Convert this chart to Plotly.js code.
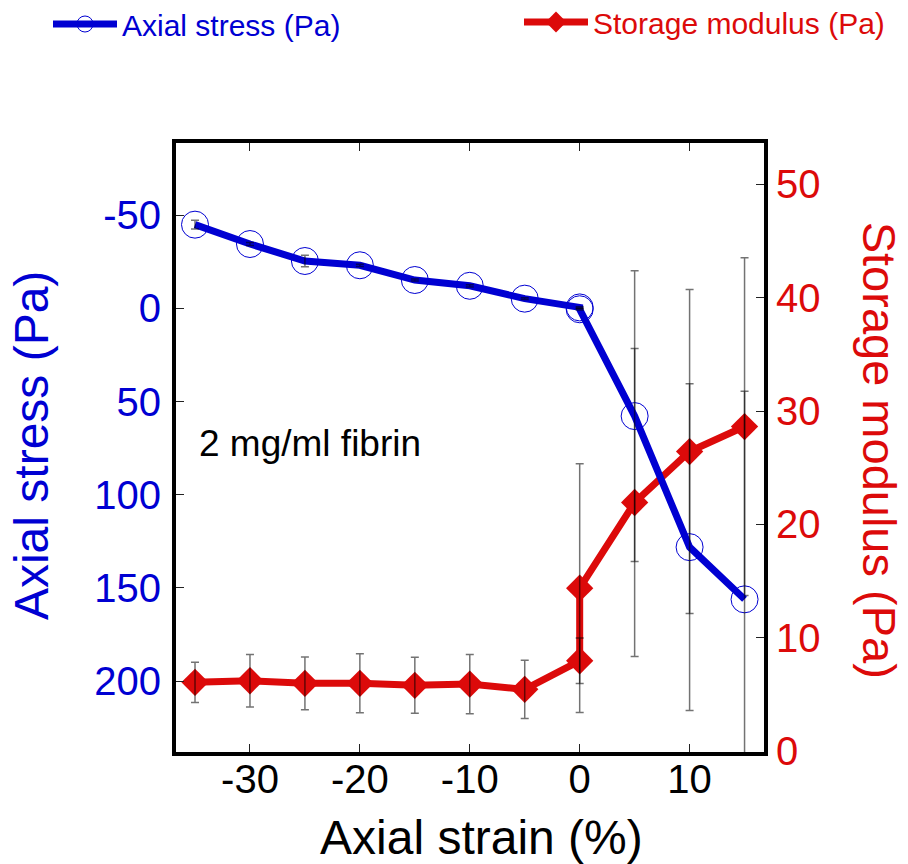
<!DOCTYPE html>
<html>
<head>
<meta charset="utf-8">
<script src="https://cdn.plot.ly/plotly-3.0.1.min.js"></script>
<style>html,body{margin:0;padding:0;background:#fff;}#chart{width:908px;height:864px;}</style>
</head>
<body>
<div id="chart"></div>
<script>
// ---- data ----
const strain = [-35, -30, -25, -20, -15, -10, -5, 0, 0, 5, 10, 15];
const stress = [-44.9, -34.5, -25.4, -23.1, -15.2, -12.1, -5.2, -0.5, 0.5, 57.8, 128.1, 156.1];
const stressErr = [2.4, 0.8, 3.1, 0.6, 0.5, 0.6, 0.5, 0.4, 0.4, 78.0, 87.7, 111.6];
const modulus = [6.09, 6.23, 6.0, 6.0, 5.83, 5.94, 5.47, 7.99, 14.39, 21.94, 26.43, 28.63];
const modulusErr = [1.78, 2.32, 2.32, 2.6, 2.46, 2.61, 2.57, 2.0, 10.96, 13.58, 14.28, 14.88];
const xTickVals = [-30, -20, -10, 0, 10];
const xTickText = ['-30', '-20', '-10', '0', '10'];
const stressTickVals = [-50, 0, 50, 100, 150, 200];
const stressTickText = ['-50', '0', '50', '100', '150', '200'];
const modulusTickVals = [0, 10, 20, 30, 40, 50];
const modulusTickText = ['0', '10', '20', '30', '40', '50'];
const stressName = 'Axial stress (Pa)';
const modulusName = 'Storage modulus (Pa)';
const xTitle = 'Axial strain (%)';
const noteText = '2 mg/ml fibrin';

const BLUE = '#0000d2';
const RED = '#dc0a0a';
const FONT = 'Liberation Sans, Arial, Helvetica, sans-serif';
const ERR = 'rgba(0,0,0,0.55)';

const traces = [
  {
    x: strain, y: modulus, yaxis: 'y', type: 'scatter', mode: 'lines+markers',
    name: modulusName, legend: 'legend2',
    line: {color: RED, width: 7},
    marker: {symbol: 'diamond', size: 21, color: RED, line: {width: 0}}
  },
  {
    x: strain, y: modulus, yaxis: 'y', type: 'scatter', mode: 'markers',
    showlegend: false, hoverinfo: 'skip',
    marker: {size: 1, color: 'rgba(0,0,0,0)'},
    error_y: {type: 'data', array: modulusErr, visible: true, color: ERR, thickness: 1.5, width: 4}
  },
  {
    x: strain, y: stress, yaxis: 'y2', type: 'scatter', mode: 'lines+markers',
    name: stressName, legend: 'legend',
    line: {color: BLUE, width: 7},
    marker: {symbol: 'circle-open', size: 27, color: BLUE, line: {width: 1, color: BLUE}}
  },
  {
    x: strain, y: stress, yaxis: 'y2', type: 'scatter', mode: 'markers',
    showlegend: false, hoverinfo: 'skip',
    marker: {size: 1, color: 'rgba(0,0,0,0)'},
    error_y: {type: 'data', array: stressErr, visible: true, color: ERR, thickness: 1.5, width: 4}
  }
];

const layout = {
  width: 908, height: 864,
  margin: {l: 176, r: 144, t: 143, b: 112, pad: 0, autoexpand: false},
  paper_bgcolor: '#fff', plot_bgcolor: '#fff',
  font: {family: FONT, color: '#000'},
  showlegend: true,
  legend: {
    xref: 'container', yref: 'container', x: 48 / 908, y: 1 - 24 / 864,
    xanchor: 'left', yanchor: 'middle', bgcolor: 'rgba(0,0,0,0)', borderwidth: 0,
    font: {size: 30, color: BLUE, family: FONT}, itemwidth: 64
  },
  legend2: {
    xref: 'container', yref: 'container', x: 519 / 908, y: 1 - 22 / 864,
    xanchor: 'left', yanchor: 'middle', bgcolor: 'rgba(0,0,0,0)', borderwidth: 0,
    font: {size: 30, color: RED, family: FONT}, itemwidth: 64
  },
  xaxis: {
    range: [-36.73, 16.77], tickmode: 'array', tickvals: xTickVals, ticktext: xTickText,
    automargin: false, showgrid: false, zeroline: false,
    showline: true, linewidth: 4, linecolor: '#000', mirror: 'ticks',
    ticks: 'inside', ticklen: 8, tickwidth: 1, tickcolor: '#222',
    tickfont: {size: 40, color: '#000', family: FONT}, ticklabelstandoff: -11
  },
  yaxis: {
    range: [-0.05, 53.62], tickmode: 'array', tickvals: modulusTickVals, ticktext: modulusTickText,
    side: 'right', automargin: false, showgrid: false, zeroline: false,
    showline: true, linewidth: 4, linecolor: '#000',
    ticks: 'inside', ticklen: 8, tickwidth: 1, tickcolor: '#222',
    tickfont: {size: 40, color: RED, family: FONT}
  },
  yaxis2: {
    overlaying: 'y', side: 'left',
    range: [238.0, -88.7], tickmode: 'array', tickvals: stressTickVals, ticktext: stressTickText,
    automargin: false, showgrid: false, zeroline: false,
    showline: true, linewidth: 4, linecolor: '#000',
    ticks: 'inside', ticklen: 8, tickwidth: 1, tickcolor: '#222',
    tickfont: {size: 40, color: BLUE, family: FONT}, ticklabelstandoff: 3
  },
  annotations: [
    {
      text: noteText, xref: 'x', yref: 'y2', x: -34.85, y: 72.5,
      xanchor: 'left', yanchor: 'middle', showarrow: false,
      font: {size: 37, color: '#000', family: FONT}
    },
    {
      text: stressName, xref: 'paper', yref: 'paper', x: -0.2466, y: 0.504,
      xanchor: 'center', yanchor: 'middle', textangle: -90, showarrow: false,
      font: {size: 48, color: BLUE, family: FONT}
    },
    {
      text: modulusName, xref: 'paper', yref: 'paper', x: 1.196, y: 0.496,
      xanchor: 'center', yanchor: 'middle', textangle: 90, showarrow: false,
      borderpad: 0, font: {size: 47, color: RED, family: FONT}
    },
    {
      text: xTitle, xref: 'paper', yref: 'paper', x: 0.520, y: -0.1396,
      xanchor: 'center', yanchor: 'middle', showarrow: false,
      font: {size: 48, color: '#000', family: FONT}
    }
  ]
};

Plotly.newPlot('chart', traces, layout, {displayModeBar: false, responsive: false});
</script>
</body>
</html>
